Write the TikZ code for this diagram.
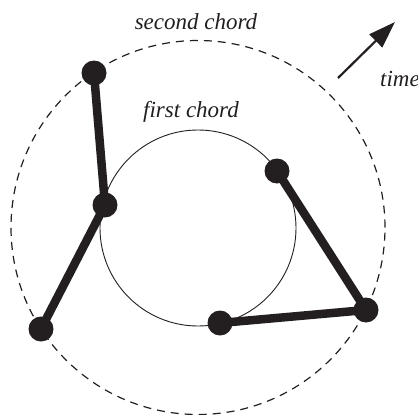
\documentclass[tikz,border=0pt]{standalone}
\usepackage{fontspec}
\setmainfont{Liberation Serif}
\usetikzlibrary{arrows.meta}
\definecolor{ink}{RGB}{35,31,32}
\begin{document}
\begin{tikzpicture}[x=1pt,y=-1pt,
  dot/.style={circle,fill=ink,inner sep=0pt,minimum size=25pt},
  bar/.style={line width=8.5pt,ink},
  lbl/.style={font=\fontsize{23}{28}\selectfont\itshape,text=ink,inner sep=0pt}]
\useasboundingbox (0,0) rectangle (418,415);
\node[circle,draw=ink,line width=1.2pt,dash pattern=on 8pt off 6pt,minimum size=374pt,inner sep=0pt] (outer) at (198,227.5) {};
\node[circle,draw=ink,line width=0.9pt,minimum size=196pt,inner sep=0pt] (inner) at (198,228) {};
\node[dot] (a) at (94,73) {};
\node[dot] (b) at (105,205) {};
\node[dot] (c) at (41,329) {};
\node[dot] (d) at (277,171) {};
\node[dot] (e) at (366,310) {};
\node[dot] (f) at (220,323) {};
\draw[bar] (a.center) -- (b.center);
\draw[bar] (b.center) -- (c.center);
\draw[bar] (d.center) -- (e.center);
\draw[bar] (e.center) -- (f.center);
\node[lbl] (sc) at (196,22) {second chord};
\node[lbl] (fc) at (191,112) {first chord};
\node[lbl,anchor=base west] (t) at (380,86) {time};
\coordinate (t0) at (338,78);
\coordinate (t1) at (395,22);
\draw[line width=2.2pt,ink,-{Triangle[length=27pt,width=18pt]}] (t0) -- (t1);
\end{tikzpicture}
\end{document}
